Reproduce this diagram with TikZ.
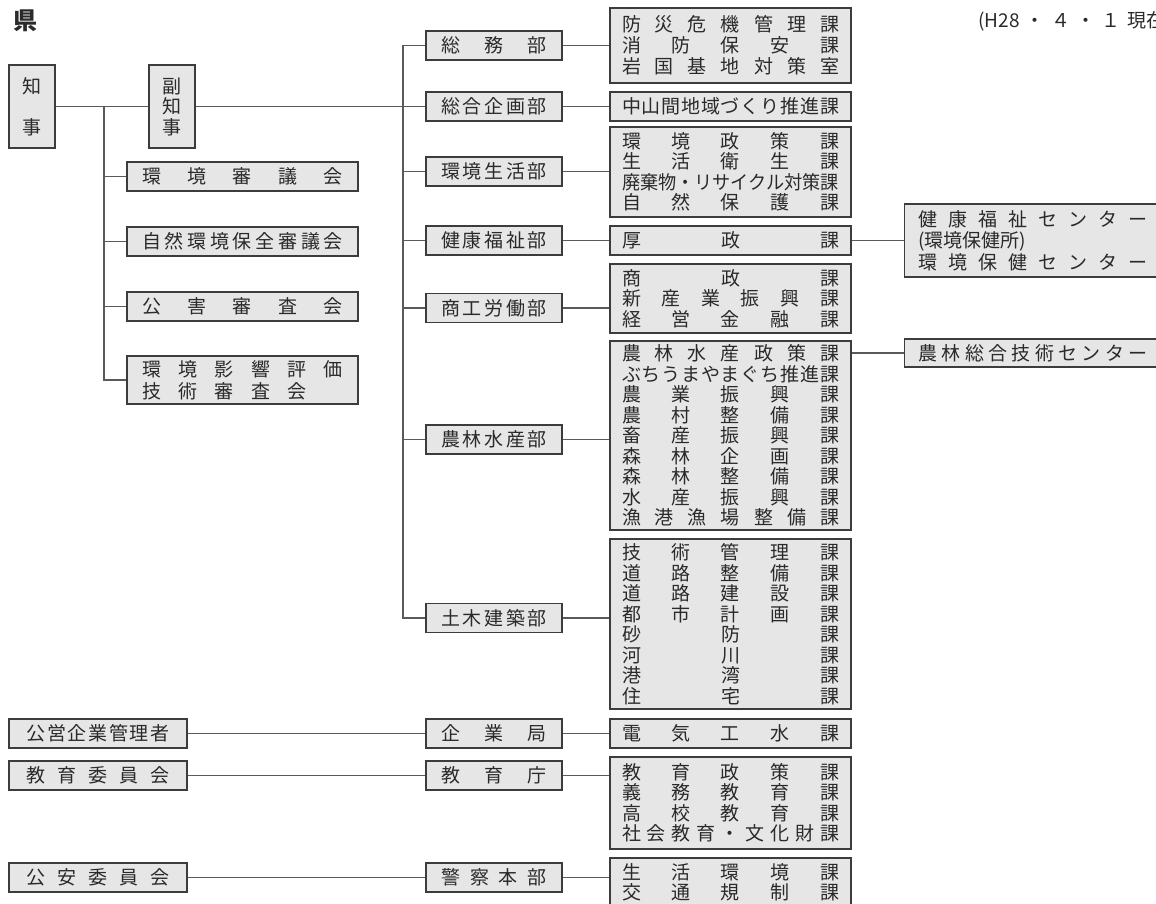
\documentclass[tikz,border=0pt]{standalone}
\usepackage{fontspec}
\usepackage{graphicx}
\setmainfont{Noto Sans CJK JP}
\definecolor{boxfill}{HTML}{E6E6E6}
\definecolor{boxline}{HTML}{3C3C3C}
\definecolor{conn}{HTML}{5A5A5A}
\definecolor{txt}{HTML}{2A2A2A}
\newcommand\dl[1]{\makebox[\linewidth][s]{\dlA#1\dlEnd}}
\def\dlA#1#2{#1\ifx#2\dlEnd\else\hfill\expandafter\dlA\expandafter#2\fi}
\newcommand\emp{\phantom{口}}
\begin{document}
\begin{tikzpicture}[x=1pt,y=-1pt,
  every node/.style={text=txt},
  basebox/.style={draw=boxline, fill=boxfill, line width=1.1pt, inner sep=0pt, font=\fontsize{19}{20.5}\selectfont, align=left},
  cmbox/.style={basebox, minimum width=231pt, text width=201pt},
  dpbox/.style={basebox, minimum width=136pt, minimum height=29pt, text width=106pt},
  secbox/.style={basebox, minimum width=241pt, text width=217pt},
  rightbox/.style={basebox, anchor=west, text width=229pt, inner xsep=14pt},
  leftbox/.style={basebox, minimum width=178pt, minimum height=29pt, text width=143pt},
  conline/.style={draw=conn, line width=1.2pt}]
\useasboundingbox (0,0) rectangle (1156,904);
\clip (0,0) rectangle (1156,904);

\node[font=\bfseries\fontsize{24}{24}\selectfont] (ken) at (25,21) {県};
\node[anchor=base west, inner sep=0pt, font=\fontsize{19}{20}\selectfont] (date) at (978,28) {\makebox[149pt][s]{(H28\hfill・\hfill４\hfill・\hfill１\hfill}現在)};

\node[basebox, align=center, minimum width=46pt, minimum height=83pt, font=\fontsize{19}{41}\selectfont] (chiji) at (32,106.5) {知\\事};
\node[basebox, align=center, minimum width=46pt, minimum height=83pt] (fuku) at (172,106.5) {副\\知\\事};

\node[cmbox, minimum height=29pt] (shingi) at (242.5,176.5) {\dl{環境審議会}};
\node[cmbox, minimum height=29pt] (shizen) at (242.5,241.5) {\dl{自然環境保全審議会}};
\node[cmbox, minimum height=29pt] (kogai) at (242.5,306.5) {\dl{公害審査会}};
\node[cmbox, minimum height=48pt, font=\fontsize{19}{22}\selectfont] (eikyo) at (242.5,380) {\dl{環境影響評価}\\\dl{技術審査会{\emp}}};

\node[dpbox] (somu) at (494,45.5) {\dl{総務部}};
\node[dpbox] (kikaku) at (494,106.5) {\dl{総合企画部}};
\node[dpbox] (kankyo) at (494,171.5) {\dl{環境生活部}};
\node[dpbox] (kenko) at (494,240.5) {\dl{健康福祉部}};
\node[dpbox] (shoko) at (494,308) {\dl{商工労働部}};
\node[dpbox] (norin) at (494,439.5) {\dl{農林水産部}};
\node[dpbox] (doboku) at (494,618) {\dl{土木建築部}};
\node[dpbox] (kigyo) at (494,733.5) {\dl{企業局}};
\node[dpbox] (kyoiku) at (494,775.5) {\dl{教育庁}};
\node[dpbox] (keisatsu) at (494,877.5) {\dl{警察本部}};

\node[secbox, minimum height=75pt, font=\fontsize{19}{21}\selectfont] (ssomu) at (730.5,45.5) {\dl{防災危機管理課}\\\dl{消防保安課}\\\dl{岩国基地対策室}};
\node[secbox, minimum height=29pt] (skikaku) at (730.5,106.5) {\dl{中山間地域づくり推進課}};
\node[secbox, minimum height=90pt] (skankyo) at (730.5,172) {\dl{環境政策課}\\\dl{生活衛生課}\\\resizebox{\linewidth}{\height}{廃棄物・リサイクル対策課}\\\dl{自然保護課}};
\node[secbox, minimum height=29pt] (skenko) at (730.5,240.5) {\dl{厚政課}};
\node[secbox, minimum height=69pt] (sshoko) at (730.5,298.5) {\dl{商政課}\\\dl{新産業振興課}\\\dl{経営金融課}};
\node[secbox, minimum height=189pt] (snorin) at (730.5,435.5) {\dl{農林水産政策課}\\\dl{ぶちうまやまぐち推進課}\\\dl{農業振興課}\\\dl{農村整備課}\\\dl{畜産振興課}\\\dl{森林企画課}\\\dl{森林整備課}\\\dl{水産振興課}\\\dl{漁港漁場整備課}};
\node[secbox, minimum height=170pt] (sdoboku) at (730.5,624) {\dl{技術管理課}\\\dl{道路整備課}\\\dl{道路建設課}\\\dl{都市計画課}\\\dl{砂{\emp}防{\emp}課}\\\dl{河{\emp}川{\emp}課}\\\dl{港{\emp}湾{\emp}課}\\\dl{住{\emp}宅{\emp}課}};
\node[secbox, minimum height=29pt] (skigyo) at (730.5,733.5) {\dl{電気工水課}};
\node[secbox, minimum height=92pt] (skyoiku) at (730.5,803) {\dl{教育政策課}\\\dl{義務教育課}\\\dl{高校教育課}\\\dl{社会教育・文化財課}};
\node[secbox, minimum height=49pt] (skeisatsu) at (730.5,882.5) {\dl{生活環境課}\\\dl{交通規制課}};

\node[rightbox, minimum height=73pt, font=\fontsize{19}{21.5}\selectfont] (kcenter) at (904,240.5) {\dl{健康福祉センター}\\(環境保健所)\\\dl{環境保健センター}};
\node[rightbox, minimum height=28pt] (ncenter) at (904,353) {\dl{農林総合技術センター}};

\node[leftbox] (koei) at (98,733.5) {\dl{公営企業管理者}};
\node[leftbox] (kyoikui) at (98,775.5) {\dl{教育委員会}};
\node[leftbox] (koan) at (98,877.5) {\dl{公安委員会}};

\draw[conline] (chiji.east) -- (fuku.west);
\draw[conline] (fuku.east) -- (kikaku.west);
\coordinate (jv) at (104,106.5);
\draw[conline] (jv) |- (eikyo.west);
\foreach \n in {shingi,shizen,kogai} \draw[conline] (jv |- \n.west) -- (\n.west);
\coordinate (tr) at (403,0);
\draw[conline] (tr |- somu.west) -- (somu.west);
\draw[conline] (tr |- somu.west) |- (doboku.west);
\foreach \n in {kankyo,kenko,shoko,norin} \draw[conline] (tr |- \n.west) -- (\n.west);
\foreach \a/\b in {somu/ssomu,kikaku/skikaku,kankyo/skankyo,kenko/skenko,shoko/sshoko,norin/snorin,doboku/sdoboku,kigyo/skigyo,kyoiku/skyoiku,keisatsu/skeisatsu}
  \draw[conline] (\a.east) -- (\a.east -| \b.west);
\draw[conline] (skenko.east) -- (kcenter.west);
\draw[conline] (ncenter.west) -- (ncenter.west -| snorin.east);
\draw[conline] (koei.east) -- (kigyo.west);
\draw[conline] (kyoikui.east) -- (kyoiku.west);
\draw[conline] (koan.east) -- (keisatsu.west);
\end{tikzpicture}
\end{document}
